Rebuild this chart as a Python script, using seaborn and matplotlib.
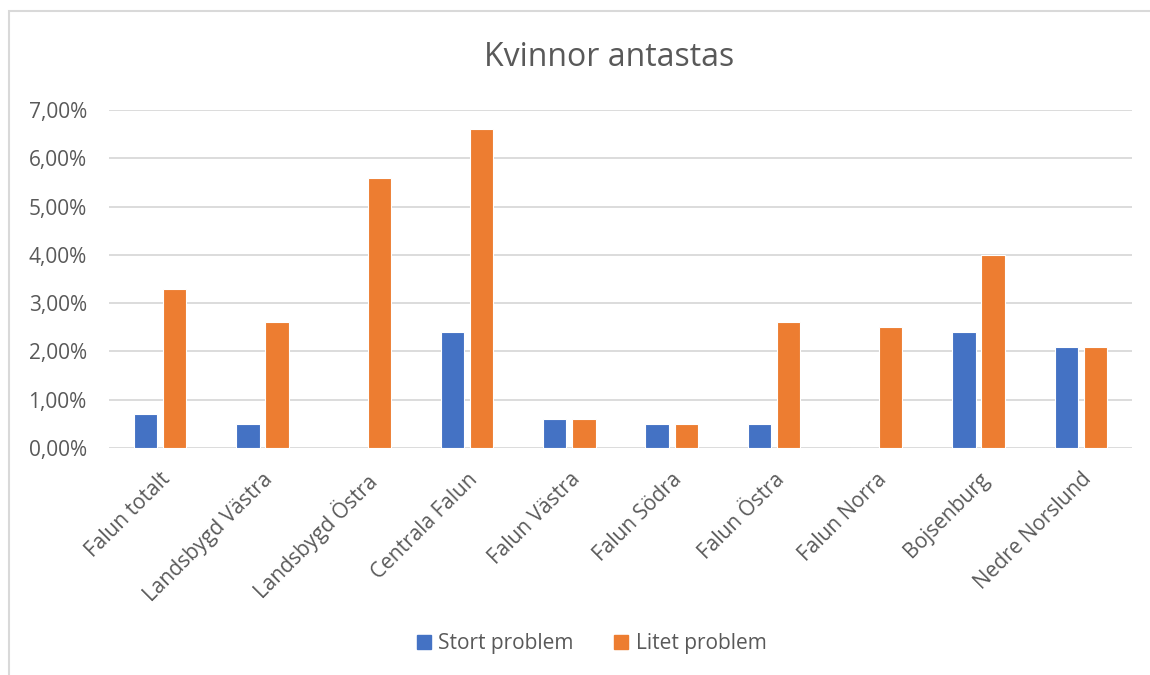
import matplotlib
matplotlib.use("Agg")
import matplotlib.pyplot as plt
from matplotlib.patches import Rectangle
from matplotlib.ticker import FuncFormatter, MultipleLocator
from matplotlib.lines import Line2D
import pandas as pd
import seaborn as sns

categories = ["Falun totalt", "Landsbygd Västra", "Landsbygd Östra", "Centrala Falun",
              "Falun Västra", "Falun Södra", "Falun Östra", "Falun Norra",
              "Bojsenburg", "Nedre Norslund"]
stort_problem = [0.7, 0.5, 0.0, 2.4, 0.6, 0.5, 0.5, 0.0, 2.4, 2.1]
litet_problem = [3.3, 2.6, 5.6, 6.6, 0.6, 0.5, 2.6, 2.5, 4.0, 2.1]
series_names = ["Stort problem", "Litet problem"]
colors = ["#4472C4", "#ED7D31"]

df = pd.DataFrame({
    "Område": categories * 2,
    "Andel": stort_problem + litet_problem,
    "Serie": [series_names[0]] * len(categories) + [series_names[1]] * len(categories),
})

sns.set_theme(style="white")
plt.rcParams["font.family"] = ["Open Sans", "DejaVu Sans"]
text_color = "#595959"
grid_color = "#D9D9D9"

fig = plt.figure(figsize=(11.5, 6.75), dpi=100)
fig.patch.set_facecolor("white")
ax = fig.add_axes([109 / 1150, 1 - 448 / 675, (1132 - 109) / 1150, (448 - 110) / 675])

sns.barplot(data=df, x="Område", y="Andel", hue="Serie", hue_order=series_names,
            palette=colors, width=0.57, gap=0.2, saturation=1,
            edgecolor="white", linewidth=0.8, legend=False, ax=ax)

ax.set_ylim(0, 7)
ax.set_xlim(-0.5, len(categories) - 0.5)
ax.yaxis.set_major_locator(MultipleLocator(1))
ax.yaxis.set_major_formatter(FuncFormatter(lambda v, _: f"{v:.2f}%".replace(".", ",")))
ax.grid(axis="y", color=grid_color, linewidth=1.3)
ax.set_axisbelow(True)
for side in ["top", "right", "left", "bottom"]:
    ax.spines[side].set_visible(False)
ax.set_xlabel("")
ax.set_ylabel("")
ax.tick_params(axis="both", length=0, colors=text_color, labelsize=15)
ax.tick_params(axis="y", pad=16)
ax.tick_params(axis="x", pad=15)
for lbl in ax.get_xticklabels():
    lbl.set_rotation(45)
    lbl.set_ha("right")
    lbl.set_rotation_mode("anchor")
    lbl.set_color(text_color)

fig.text(609 / 1150, 1 - 58 / 675, "Kvinnor antastas", ha="center", va="center",
         fontsize=23, color=text_color)

handles = [Line2D([0], [0], marker="s", linestyle="", markersize=10,
                  markerfacecolor=c, markeredgecolor=c) for c in colors]
fig.legend(handles, series_names, loc="center", bbox_to_anchor=(590 / 1150, 1 - 644 / 675),
           ncol=2, frameon=False, fontsize=15, labelcolor=text_color,
           handletextpad=0.2, columnspacing=1.8, handlelength=1.0)

fig.add_artist(Rectangle((9 / 1150, -0.1), 1.2, 1.1 - 11 / 675, transform=fig.transFigure,
                         fill=False, edgecolor=grid_color, linewidth=1.5))

fig.savefig("out.png", dpi=100, facecolor="white")
